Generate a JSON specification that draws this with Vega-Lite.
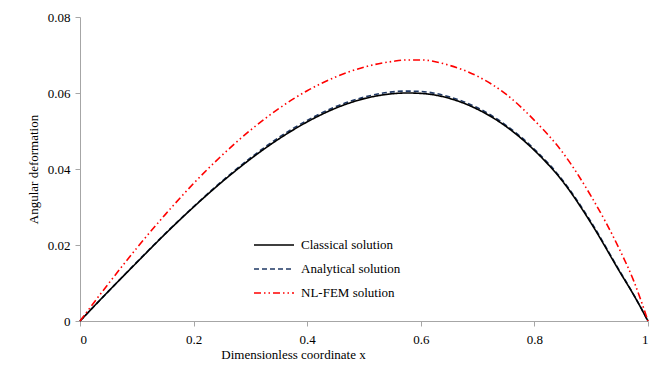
{
  "$schema": "https://vega.github.io/schema/vega-lite/v6.json",
  "width": 568,
  "height": 304,
  "autosize": {"type": "none"},
  "padding": {"left": 80, "top": 17, "right": 21, "bottom": 49},
  "background": "white",
  "config": {
    "view": {"stroke": null},
    "font": "Liberation Serif",
    "axis": {
      "grid": false,
      "domainColor": "#a6a6a6",
      "tickColor": "#a6a6a6",
      "labelColor": "#000000",
      "titleColor": "#000000",
      "labelFont": "Liberation Serif",
      "titleFont": "Liberation Serif",
      "labelFontSize": 13,
      "titleFontSize": 13,
      "titleFontWeight": "normal",
      "tickSize": 5
    }
  },
  "data": {
    "values": [
      {"x": 0, "y": 0, "s": "Analytical solution"},
      {"x": 0.05, "y": 0.0078, "s": "Analytical solution"},
      {"x": 0.1, "y": 0.0155, "s": "Analytical solution"},
      {"x": 0.15, "y": 0.0230, "s": "Analytical solution"},
      {"x": 0.2, "y": 0.0301, "s": "Analytical solution"},
      {"x": 0.25, "y": 0.0368, "s": "Analytical solution"},
      {"x": 0.3, "y": 0.0429, "s": "Analytical solution"},
      {"x": 0.35, "y": 0.0483, "s": "Analytical solution"},
      {"x": 0.4, "y": 0.0528, "s": "Analytical solution"},
      {"x": 0.45, "y": 0.0564, "s": "Analytical solution"},
      {"x": 0.5, "y": 0.0589, "s": "Analytical solution"},
      {"x": 0.55, "y": 0.0603, "s": "Analytical solution"},
      {"x": 0.575, "y": 0.0605, "s": "Analytical solution"},
      {"x": 0.6, "y": 0.0604, "s": "Analytical solution"},
      {"x": 0.65, "y": 0.0590, "s": "Analytical solution"},
      {"x": 0.7, "y": 0.0561, "s": "Analytical solution"},
      {"x": 0.75, "y": 0.0515, "s": "Analytical solution"},
      {"x": 0.8, "y": 0.0452, "s": "Analytical solution"},
      {"x": 0.85, "y": 0.0370, "s": "Analytical solution"},
      {"x": 0.9, "y": 0.0260, "s": "Analytical solution"},
      {"x": 0.95, "y": 0.0132, "s": "Analytical solution"},
      {"x": 0.975, "y": 0.0069, "s": "Analytical solution"},
      {"x": 1, "y": 0, "s": "Analytical solution"},
      {"x": 0, "y": 0, "s": "Classical solution"},
      {"x": 0.05, "y": 0.0078, "s": "Classical solution"},
      {"x": 0.1, "y": 0.0154, "s": "Classical solution"},
      {"x": 0.15, "y": 0.0229, "s": "Classical solution"},
      {"x": 0.2, "y": 0.0300, "s": "Classical solution"},
      {"x": 0.25, "y": 0.0366, "s": "Classical solution"},
      {"x": 0.3, "y": 0.0426, "s": "Classical solution"},
      {"x": 0.35, "y": 0.0479, "s": "Classical solution"},
      {"x": 0.4, "y": 0.0524, "s": "Classical solution"},
      {"x": 0.45, "y": 0.0560, "s": "Classical solution"},
      {"x": 0.5, "y": 0.0585, "s": "Classical solution"},
      {"x": 0.55, "y": 0.0598, "s": "Classical solution"},
      {"x": 0.575, "y": 0.0600, "s": "Classical solution"},
      {"x": 0.6, "y": 0.0599, "s": "Classical solution"},
      {"x": 0.65, "y": 0.0586, "s": "Classical solution"},
      {"x": 0.7, "y": 0.0557, "s": "Classical solution"},
      {"x": 0.75, "y": 0.0512, "s": "Classical solution"},
      {"x": 0.8, "y": 0.0449, "s": "Classical solution"},
      {"x": 0.85, "y": 0.0367, "s": "Classical solution"},
      {"x": 0.9, "y": 0.0257, "s": "Classical solution"},
      {"x": 0.95, "y": 0.0130, "s": "Classical solution"},
      {"x": 0.975, "y": 0.0068, "s": "Classical solution"},
      {"x": 1, "y": 0, "s": "Classical solution"},
      {"x": 0, "y": 0, "s": "NL-FEM solution"},
      {"x": 0.05, "y": 0.0098, "s": "NL-FEM solution"},
      {"x": 0.1, "y": 0.0192, "s": "NL-FEM solution"},
      {"x": 0.15, "y": 0.0280, "s": "NL-FEM solution"},
      {"x": 0.2, "y": 0.0362, "s": "NL-FEM solution"},
      {"x": 0.25, "y": 0.0436, "s": "NL-FEM solution"},
      {"x": 0.3, "y": 0.0502, "s": "NL-FEM solution"},
      {"x": 0.35, "y": 0.0559, "s": "NL-FEM solution"},
      {"x": 0.4, "y": 0.0606, "s": "NL-FEM solution"},
      {"x": 0.45, "y": 0.0642, "s": "NL-FEM solution"},
      {"x": 0.5, "y": 0.0668, "s": "NL-FEM solution"},
      {"x": 0.55, "y": 0.0683, "s": "NL-FEM solution"},
      {"x": 0.575, "y": 0.0687, "s": "NL-FEM solution"},
      {"x": 0.6, "y": 0.0687, "s": "NL-FEM solution"},
      {"x": 0.65, "y": 0.0673, "s": "NL-FEM solution"},
      {"x": 0.7, "y": 0.0644, "s": "NL-FEM solution"},
      {"x": 0.75, "y": 0.0597, "s": "NL-FEM solution"},
      {"x": 0.8, "y": 0.0528, "s": "NL-FEM solution"},
      {"x": 0.85, "y": 0.0443, "s": "NL-FEM solution"},
      {"x": 0.9, "y": 0.0328, "s": "NL-FEM solution"},
      {"x": 0.95, "y": 0.0188, "s": "NL-FEM solution"},
      {"x": 0.975, "y": 0.0105, "s": "NL-FEM solution"},
      {"x": 1, "y": 0, "s": "NL-FEM solution"}
    ]
  },
  "mark": {"type": "line", "interpolate": "monotone", "strokeWidth": 1.6},
  "encoding": {
    "x": {
      "field": "x",
      "type": "quantitative",
      "scale": {"domain": [0, 1], "nice": false, "zero": false},
      "axis": {
        "values": [0, 0.2, 0.4, 0.6, 0.8, 1],
        "format": "~g",
        "labelPadding": 7,
        "title": "Dimensionless coordinate x",
        "titleX": 213,
        "titleY": 33,
        "titleAnchor": null,
        "titleBaseline": "middle",
        "titleAlign": "center"
      }
    },
    "y": {
      "field": "y",
      "type": "quantitative",
      "scale": {"domain": [0, 0.08], "nice": false},
      "axis": {
        "values": [0, 0.02, 0.04, 0.06, 0.08],
        "format": "~g",
        "labelPadding": 5,
        "title": "Angular deformation",
        "titleX": -47,
        "titleY": 152,
        "titleAngle": -90,
        "titleBaseline": "middle",
        "titleAlign": "center"
      }
    },
    "color": {
      "field": "s",
      "type": "nominal",
      "scale": {
        "domain": ["Classical solution", "Analytical solution", "NL-FEM solution"],
        "range": ["#000000", "#1f3864", "#ff0000"]
      },
      "legend": {
        "title": null,
        "orient": "none",
        "legendX": 173,
        "legendY": 221,
        "symbolType": "stroke",
        "symbolSize": 1600,
        "symbolStrokeWidth": 1.6,
        "clipHeight": 14,
        "labelFont": "Liberation Serif",
        "labelFontSize": 13,
        "labelColor": "#000000",
        "rowPadding": 10,
        "labelOffset": 6
      }
    },
    "strokeDash": {
      "field": "s",
      "type": "nominal",
      "scale": {
        "domain": ["Classical solution", "Analytical solution", "NL-FEM solution"],
        "range": [[1, 0], [5, 3], [7, 3, 1.5, 3, 1.5, 3]]
      },
      "legend": null
    },
    "order": {"field": "x", "type": "quantitative"}
  }
}
